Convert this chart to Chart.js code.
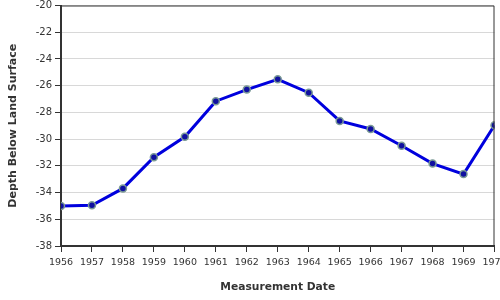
<!DOCTYPE html>
<html>
<head>
<meta charset="utf-8">
<script src="https://cdn.jsdelivr.net/npm/chart.js@4"></script>
<style>
  body { margin: 0; background: #fff; overflow: hidden; }
  #wrap { width: 500px; height: 300px; }
</style>
</head>
<body>
<div id="wrap"><canvas id="depthChart"></canvas></div>
<script>
const years = [1956, 1957, 1958, 1959, 1960, 1961, 1962, 1963, 1964, 1965, 1966, 1967, 1968, 1969, 1970];
const depths = [-35.0, -34.95, -33.69, -31.36, -29.83, -27.16, -26.29, -25.52, -26.53, -28.64, -29.24, -30.5, -31.83, -32.62, -28.96];
const yMin = -38;
const yMax = -20;

const ctx = document.getElementById('depthChart');

// thin frame on top and right of the plot
const frame = {
  id: 'frame',
  afterDraw(chart) {
    const a = chart.chartArea;
    const c = chart.ctx;
    c.save();
    c.strokeStyle = '#333';
    c.lineWidth = 1;
    c.beginPath();
    c.moveTo(a.left, a.top + 0.5);
    c.lineTo(a.right - 0.5, a.top + 0.5);
    c.lineTo(a.right - 0.5, a.bottom);
    c.stroke();
    c.restore();
  }
};

new Chart(ctx, {
  type: 'line',
  data: {
    datasets: [{
      data: years.map((y, i) => ({ x: y, y: depths[i] })),
      borderColor: '#0000dd',
      borderWidth: 3,
      pointRadius: 3.5,
      pointBackgroundColor: '#1010a0',
      pointBorderColor: '#7a9a96',
      pointBorderWidth: 1.5,
      tension: 0,
      fill: false
    }]
  },
  options: {
    responsive: true,
    maintainAspectRatio: false,
    animation: false,
    layout: { padding: { top: 4, right: 4, bottom: 0, left: 0 } },
    plugins: {
      legend: { display: false },
      tooltip: { enabled: false }
    },
    scales: {
      x: {
        type: 'linear',
        min: 1956,
        max: 1970,
        afterFit: s => { s.height = 54; s.paddingRight = 0; s.paddingLeft = 0; },
        ticks: {
          stepSize: 1,
          color: '#333',
          font: { family: 'DejaVu Sans', size: 9.5 },
          padding: 5,
          maxRotation: 0,
          autoSkip: false,
          callback: v => String(v)
        },
        grid: { drawOnChartArea: false, drawTicks: true, tickLength: 6, tickColor: '#333' },
        border: { color: '#333', width: 2 },
        title: {
          display: true,
          text: 'Measurement Date',
          color: '#333',
          font: { family: 'DejaVu Sans', size: 10.7, weight: 'bold' },
          padding: { top: 0, bottom: 6 }
        }
      },
      y: {
        min: yMin,
        max: yMax,
        afterFit: s => { s.width = 61; s.paddingTop = 0; s.paddingBottom = 0; },
        ticks: {
          stepSize: 2,
          color: '#333',
          font: { family: 'DejaVu Sans', size: 10 },
          padding: 3
        },
        grid: { color: '#d8d8d8', drawTicks: true, tickLength: 6, tickColor: '#333' },
        border: { color: '#333', width: 2 },
        title: {
          display: true,
          text: 'Depth Below Land Surface',
          color: '#333',
          font: { family: 'DejaVu Sans', size: 11, weight: 'bold' },
          padding: { top: 7, bottom: 0 }
        }
      }
    }
  },
  plugins: [frame]
});
</script>
</body>
</html>
